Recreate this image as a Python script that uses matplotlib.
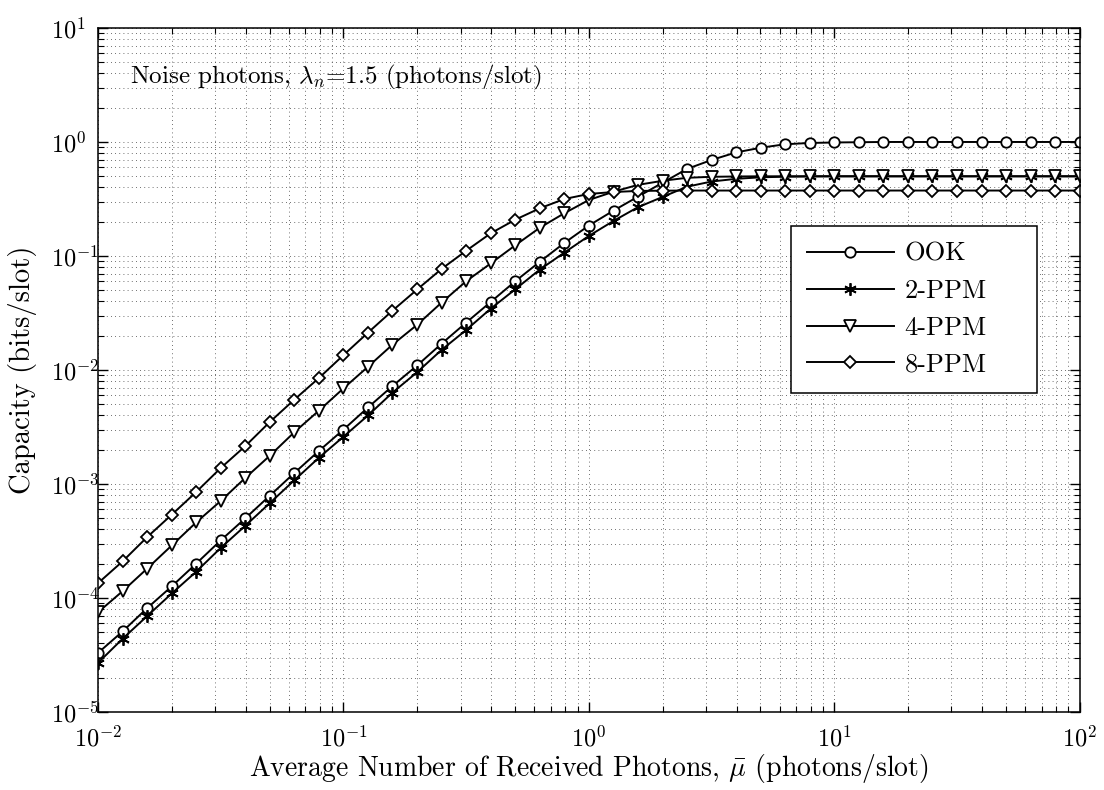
import numpy as np
import matplotlib
matplotlib.use("Agg")
import matplotlib.pyplot as plt
from matplotlib.ticker import LogLocator, NullFormatter

plt.rcParams["font.family"] = ["cmr10", "DejaVu Serif"]
plt.rcParams["mathtext.fontset"] = "cm"
plt.rcParams["axes.formatter.use_mathtext"] = True

# average received photons (10 points per decade)
mu = [0.01, 0.0126, 0.0158, 0.02, 0.0251, 0.0316, 0.0398, 0.0501, 0.0631, 0.0794,
      0.1, 0.126, 0.158, 0.2, 0.251, 0.316, 0.398, 0.501, 0.631, 0.794,
      1.0, 1.26, 1.58, 2.0, 2.51, 3.16, 3.98, 5.01, 6.31, 7.94,
      10.0, 12.6, 15.8, 20.0, 25.1, 31.6, 39.8, 50.1, 63.1, 79.4, 100.0]

ook = [3.3e-5, 5.1e-5, 8.1e-5, 1.27e-4, 2.0e-4, 3.2e-4, 5.0e-4, 7.9e-4, 1.25e-3, 1.95e-3,
       3.0e-3, 4.7e-3, 7.2e-3, 1.1e-2, 1.7e-2, 2.6e-2, 3.95e-2, 6.0e-2, 8.9e-2, 0.13,
       0.185, 0.25, 0.33, 0.44, 0.58, 0.695, 0.81, 0.89, 0.955, 0.98,
       0.99, 0.995, 1.0, 1.0, 1.0, 1.0, 1.0, 1.0, 1.0, 1.0, 1.0]

ppm2 = [2.7e-5, 4.4e-5, 6.9e-5, 1.1e-4, 1.7e-4, 2.75e-4, 4.3e-4, 6.8e-4, 1.08e-3, 1.7e-3,
        2.6e-3, 4.0e-3, 6.3e-3, 9.6e-3, 1.5e-2, 2.24e-2, 3.45e-2, 5.1e-2, 7.6e-2, 0.107,
        0.15, 0.203, 0.267, 0.33, 0.405, 0.45, 0.475, 0.49, 0.496, 0.499,
        0.5, 0.5, 0.5, 0.5, 0.5, 0.5, 0.5, 0.5, 0.5, 0.5, 0.5]

ppm4 = [7.5e-5, 1.15e-4, 1.8e-4, 2.9e-4, 4.6e-4, 7.1e-4, 1.13e-3, 1.77e-3, 2.85e-3, 4.4e-3,
        6.9e-3, 1.07e-2, 1.66e-2, 2.5e-2, 3.9e-2, 6.0e-2, 8.6e-2, 0.124, 0.177, 0.237,
        0.31, 0.366, 0.42, 0.457, 0.485, 0.495, 0.498, 0.5, 0.5, 0.5,
        0.5, 0.5, 0.5, 0.5, 0.5, 0.5, 0.5, 0.5, 0.5, 0.5, 0.5]

ppm8 = [1.35e-4, 2.1e-4, 3.4e-4, 5.4e-4, 8.5e-4, 1.38e-3, 2.15e-3, 3.5e-3, 5.5e-3, 8.5e-3,
        1.35e-2, 2.13e-2, 3.3e-2, 5.1e-2, 7.7e-2, 0.111, 0.158, 0.208, 0.262, 0.316,
        0.35, 0.364, 0.372, 0.374, 0.375, 0.375, 0.375, 0.375, 0.375, 0.375,
        0.375, 0.375, 0.375, 0.375, 0.375, 0.375, 0.375, 0.375, 0.375, 0.375, 0.375]

series = [
    ("OOK", ook, "o", 7.5),
    ("2-PPM", ppm2, (6, 2, 0), 9),
    ("4-PPM", ppm4, "v", 8),
    ("8-PPM", ppm8, "D", 6.5),
]

fig = plt.figure(figsize=(11.04, 7.9), dpi=100)
ax = fig.add_axes([0.0888, 0.0987, 0.8892, 0.8659])

for name, vals, mk, ms in series:
    ax.plot(mu, vals, color="black", lw=1.4, marker=mk, ms=ms,
            mfc="white", mec="black", mew=1.3, label=name)

ax.set_xscale("log")
ax.set_yscale("log")
ax.set_xlim(1e-2, 1e2)
ax.set_ylim(1e-5, 1e1)

ax.xaxis.set_major_locator(LogLocator(base=10, numticks=10))
ax.yaxis.set_major_locator(LogLocator(base=10, numticks=10))
ax.xaxis.set_minor_locator(LogLocator(base=10, subs=np.arange(2, 10), numticks=20))
ax.yaxis.set_minor_locator(LogLocator(base=10, subs=np.arange(2, 10), numticks=20))
ax.xaxis.set_minor_formatter(NullFormatter())
ax.yaxis.set_minor_formatter(NullFormatter())

ax.grid(True, which="both", color="0.25", linestyle=(0, (1, 4)), linewidth=0.6)
ax.tick_params(which="both", direction="in", top=True, right=True, labelsize=17.5)
ax.tick_params(which="major", length=7, width=1)
ax.tick_params(which="minor", length=4, width=0.8)
ax.tick_params(axis="x", which="major", pad=10)
ax.tick_params(axis="y", which="major", pad=34)
plt.setp(ax.get_yticklabels(), ha="left")
for s in ax.spines.values():
    s.set_linewidth(1.1)

ax.set_xlabel(r"Average Number of Received Photons, $\bar{\mu}$ (photons/slot)", fontsize=20, labelpad=0)
ax.set_ylabel("Capacity (bits/slot)", fontsize=20.5)
ax.yaxis.set_label_coords(-0.062, 0.5)

ax.text(0.033, 0.9196, r"Noise photons, $\lambda_n$=1.5 (photons/slot)",
        transform=ax.transAxes, fontsize=18, va="baseline", ha="left")

leg = ax.legend(loc="upper left", bbox_to_anchor=(0.706, 0.0, 0.2505, 0.71), mode="expand",
                borderaxespad=0, fontsize=19, handlelength=3.3, handletextpad=0.4,
                labelspacing=0.5, fancybox=False, framealpha=1, edgecolor="black",
                borderpad=0.6)
leg.get_frame().set_linewidth(1.1)

fig.savefig("out.png", dpi=100)
